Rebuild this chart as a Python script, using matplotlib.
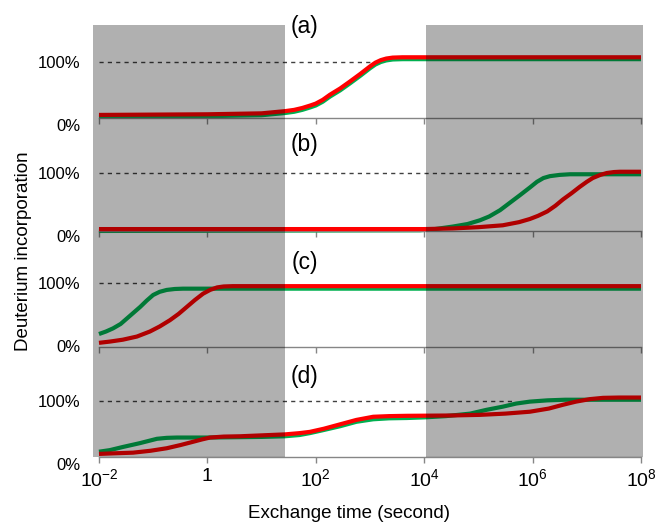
import numpy as np
import matplotlib
matplotlib.use("Agg")
import matplotlib.pyplot as plt

plt.rcParams['font.family'] = ['Liberation Sans', 'DejaVu Sans']
plt.rcParams['mathtext.fontset'] = 'custom'
plt.rcParams['mathtext.rm'] = 'Liberation Sans'
plt.rcParams['mathtext.it'] = 'Liberation Sans'

# exchange time given as log10(seconds), incorporation as fraction of 100%
a_red_logt = [-2, 0, 1, 1.43, 1.6, 1.75, 1.9, 2.0, 2.13, 2.26, 2.45, 2.63, 2.82, 3.0, 3.1,
              3.2, 3.3, 3.42, 3.6, 8]
a_red_val = [0.16, 0.17, 0.185, 0.22, 0.24, 0.27, 0.31, 0.34, 0.40, 0.48, 0.58, 0.69, 0.81,
             0.93, 0.99, 1.03, 1.055, 1.07, 1.075, 1.075]
a_green_logt = [-2, 0, 1, 1.43, 1.6, 1.75, 1.9, 2.0, 2.13, 2.26, 2.45, 2.63, 2.82, 3.0, 3.1,
                3.2, 3.3, 3.42, 3.6, 8]
a_green_val = [0.13, 0.14, 0.155, 0.19, 0.21, 0.24, 0.28, 0.31, 0.37, 0.45, 0.55, 0.66, 0.78,
               0.90, 0.96, 1.0, 1.025, 1.04, 1.045, 1.045]

b_red_logt = [-2, 4.0, 4.53, 5.0, 5.45, 5.75, 5.95, 6.1, 6.27, 6.42, 6.56, 6.72, 6.87, 7.0,
              7.11, 7.25, 7.37, 7.5, 7.61, 8]
b_red_val = [0.11, 0.11, 0.12, 0.14, 0.17, 0.22, 0.27, 0.32, 0.39, 0.48, 0.58, 0.68, 0.78,
             0.86, 0.92, 0.97, 1.0, 1.015, 1.02, 1.02]
b_green_logt = [-2, 3.92, 4.2, 4.53, 4.8, 5.03, 5.2, 5.4, 5.6, 5.77, 5.95, 6.08, 6.2, 6.32,
                6.5, 6.69, 8]
b_green_val = [0.08, 0.09, 0.11, 0.15, 0.19, 0.25, 0.31, 0.41, 0.54, 0.65, 0.77, 0.86, 0.92,
               0.95, 0.97, 0.98, 0.98]

c_red_logt = [-2, -1.8, -1.56, -1.3, -1.06, -0.88, -0.69, -0.53, -0.38, -0.23, -0.08, 0.05,
              0.18, 0.3, 0.47, 8]
c_red_val = [0.05, 0.07, 0.10, 0.15, 0.23, 0.31, 0.41, 0.51, 0.62, 0.73, 0.83, 0.89, 0.93,
             0.945, 0.95, 0.95]
c_green_logt = [-2, -1.87, -1.74, -1.6, -1.48, -1.36, -1.24, -1.12, -1.0, -0.88, -0.75, -0.6,
                -0.45, 8]
c_green_val = [0.19, 0.23, 0.28, 0.35, 0.44, 0.53, 0.62, 0.72, 0.81, 0.86, 0.89, 0.905, 0.91,
               0.91]

d_red_logt = [-2, -1.7, -1.37, -1.05, -0.75, -0.5, -0.32, -0.1, 0.05, 0.3, 0.6, 1.43, 1.7,
              1.89, 2.15, 2.45, 2.75, 3.06, 3.35, 3.68, 4.5, 5.03, 5.5, 5.95, 6.3, 6.56, 6.8,
              7.06, 7.3, 7.6, 8]
d_red_val = [0.16, 0.17, 0.18, 0.21, 0.25, 0.30, 0.34, 0.39, 0.42, 0.435, 0.44, 0.47, 0.49,
             0.51, 0.56, 0.63, 0.70, 0.75, 0.76, 0.765, 0.77, 0.78, 0.80, 0.83, 0.88, 0.94,
             0.99, 1.03, 1.05, 1.055, 1.055]
d_green_logt = [-2, -1.8, -1.56, -1.25, -0.93, -0.75, -0.56, 0, 1.0, 1.43, 1.7, 1.89, 2.15,
                2.45, 2.75, 3.06, 3.35, 3.68, 4.0, 4.4, 4.85, 5.15, 5.45, 5.7, 5.95, 6.27,
                6.6, 8]
d_green_val = [0.195, 0.22, 0.27, 0.33, 0.40, 0.415, 0.42, 0.42, 0.43, 0.44, 0.46, 0.49, 0.54,
               0.60, 0.67, 0.71, 0.725, 0.73, 0.74, 0.76, 0.80, 0.86, 0.91, 0.96, 0.99, 1.01,
               1.02, 1.02]

# end of the dashed 100% reference line in each panel (log10 s)
dash_end = [3.1, 5.95, -0.87, 5.68]
panel_labels = ['(a)', '(b)', '(c)', '(d)']
xtick_exp = [-2, 0, 2, 4, 6, 8]
xtick_labels = ['10$^{-2}$', '1', '10$^{2}$', '10$^{4}$', '10$^{6}$', '10$^{8}$']
shade_spans = [(-2.11, 1.43), (4.03, 8.037)]

panels = [
    (a_red_logt, a_red_val, a_green_logt, a_green_val),
    (b_red_logt, b_red_val, b_green_logt, b_green_val),
    (c_red_logt, c_red_val, c_green_logt, c_green_val),
    (d_red_logt, d_red_val, d_green_logt, d_green_val),
]

W, H = 659, 524
fig = plt.figure(figsize=(W / 100, H / 100), dpi=100)

px_per_unit = 63
zero_px = [125, 236, 346, 464]
axis_px = [118, 231, 347, 457]
label_py = [27, 145, 262, 377]
x0, x1 = 93, 643
xlim = (10 ** -2.11, 10 ** 8.037)
ylo, yhi = -0.2, 1.5

red = '#FF0000'
green = '#00B050'
axis_gray = '#868686'

for i, (rx, ry, gx, gy) in enumerate(panels):
    bottom = zero_px[i] - ylo * px_per_unit
    height = (yhi - ylo) * px_per_unit
    ax = fig.add_axes([x0 / W, 1 - bottom / H, (x1 - x0) / W, height / H])
    ax.patch.set_alpha(0)
    ax.set_xscale('log')
    ax.set_xlim(*xlim)
    ax.set_ylim(ylo, yhi)

    ax.plot([1e-2, 10 ** dash_end[i]], [1, 1], color='#404040', lw=1.0,
            dashes=(3, 3), zorder=1)
    ax.plot(10 ** np.array(gx), np.array(gy), color=green, lw=3, zorder=2,
            solid_capstyle='butt', solid_joinstyle='round')
    ax.plot(10 ** np.array(rx), np.array(ry), color=red, lw=3, zorder=3,
            solid_capstyle='butt', solid_joinstyle='round')

    for s in ['top', 'right', 'left']:
        ax.spines[s].set_visible(False)
    sp = ax.spines['bottom']
    sp.set_position(('data', (zero_px[i] - axis_px[i]) / px_per_unit))
    sp.set_bounds(1e-2, 1e8)
    sp.set_color(axis_gray)
    sp.set_linewidth(1.0)

    ax.set_xticks([10.0 ** e for e in xtick_exp])
    ax.xaxis.set_minor_locator(matplotlib.ticker.NullLocator())
    ax.tick_params(axis='x', direction='out', length=4, width=1, color=axis_gray)
    if i == 3:
        ax.set_xticklabels(xtick_labels, fontsize=14)
        ax.tick_params(axis='x', pad=4)
    else:
        ax.tick_params(axis='x', labelbottom=False)

    ax.set_yticks([0, 1])
    ax.set_yticklabels(['0%', '100%'], fontsize=12)
    ax.tick_params(axis='y', length=0, pad=9)

    fig.text(305 / W, 1 - label_py[i] / H, panel_labels[i], fontsize=16.5,
             ha='center', va='center')

# gray bands, drawn over the curves like the original
ov = fig.add_axes([x0 / W, 1 - 457 / H, (x1 - x0) / W, (457 - 25) / H])
ov.set_zorder(10)
ov.patch.set_alpha(0)
ov.set_xscale('log')
ov.set_xlim(*xlim)
ov.set_ylim(0, 1)
ov.axis('off')
for lo, hi in shade_spans:
    ov.axvspan(10 ** lo, 10 ** hi, color='black', alpha=0.31, lw=0)

fig.text(23 / W, 1 - 251 / H, 'Deuterium incorporation', fontsize=13.5,
         rotation=90, ha='center', va='center')
fig.text(349 / W, 1 - 514 / H, 'Exchange time (second)', fontsize=13.5,
         ha='center', va='center')

fig.savefig('out.png', dpi=100)
